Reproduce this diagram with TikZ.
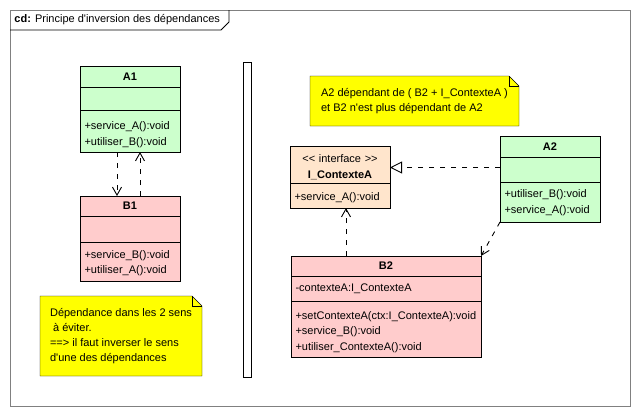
\documentclass[tikz,border=0pt]{standalone}
\usepackage{fontspec}
\setmainfont{Liberation Sans}[Ligatures=TeXOff]
\usetikzlibrary{positioning,arrows.meta,backgrounds}
\definecolor{clsgreen}{RGB}{204,255,204}
\definecolor{clspink}{RGB}{255,204,204}
\definecolor{clspeach}{RGB}{255,229,204}
\definecolor{noteyellow}{RGB}{255,255,0}
\definecolor{framegray}{RGB}{128,128,128}

\begin{document}
\begin{tikzpicture}[%
    x=1pt, y=-1pt,                        % screen-like coordinates, y going down
    font=\fontsize{11}{15.5}\selectfont,  % one text size everywhere
    line width=0.9pt,
    >={Straight Barb[length=8pt,width=9pt]},
    ]
% -------------------------------------------------
% Box styles for the classes and the notes
\tikzset{
  base/.style={draw, rectangle, inner xsep=4.5pt, inner ysep=0pt, outer sep=0pt},
  box/.style={base, text width=91pt, align=left},
  wbox/.style={base, text width=181pt, align=left},
  head/.style={align=center},
  % lift pushes a text block down a little (height of the first line)
  lift/.style={execute at begin node={\rule{0pt}{#1}}},
  note/.style={rectangle, inner sep=0pt, outer sep=0pt, align=left,
    font=\fontsize{11}{15}\selectfont},
  % Connector line styles
  dep/.style={->, dash pattern=on 5pt off 6pt},
  real/.style={-{Triangle[open,length=12pt,width=12pt]}, dash pattern=on 5pt off 6pt},
}
\useasboundingbox (0,0) rectangle (640,416);
% -------------------------------------------------
% Frame and its title
\draw[framegray] (10,10) rectangle (630,406);
\node[anchor=west, inner sep=0pt] (title) at (14,20) {\textbf{cd:} Principe d'inversion des dépendances};
\draw (10,30) -- (221,30) -- (229,22) -- (229,10);
\node[draw, minimum width=8, minimum height=315, inner sep=0pt, anchor=north west] (sep) at (243,62) {};

% -------------------------------------------------
% Left side: A1 and B1 depend on each other
\node[box, head, fill=clsgreen, minimum height=21, anchor=north west] (a1) at (80,66) {\textbf{A1}};
\node[box, fill=clsgreen, minimum height=23, below=0pt of a1] (a1attr) {};
\node[box, fill=clsgreen, minimum height=42, below=0pt of a1attr, lift=15pt] (a1ops) {+service\_A():void\\+utiliser\_B():void};

\node[box, head, fill=clspink, minimum height=20, anchor=north west] (b1) at (80,196) {\textbf{B1}};
\node[box, fill=clspink, minimum height=26, below=0pt of b1] (b1attr) {};
\node[box, fill=clspink, minimum height=39, below=0pt of b1attr, lift=11pt] (b1ops) {+service\_B():void\\+utiliser\_A():void};

\node[note, minimum width=162, minimum height=80, anchor=north west, lift=16pt] (n1) at (40,296)
  {Dépendance dans les 2 sens\\\ à éviter.\\==> il faut inverser le sens\\d'une des dépendances};

% -------------------------------------------------
% Right side: dependency inverted through the interface
\node[note, minimum width=209, minimum height=50, anchor=north west, lift=15pt] (n2) at (310,76)
  {A2 dépendant de ( B2 + I\_ContexteA )\\et B2 n'est plus dépendant de A2};

\node[box, head, fill=clspeach, minimum height=37, anchor=north west, lift=14pt, font=\fontsize{11}{16}\selectfont] (ictx) at (290,146)
  {<\kern0pt< interface >\kern0pt>\\\textbf{I\_ContexteA}};
\node[box, fill=clspeach, minimum height=25, below=0pt of ictx, lift=12pt] (ictxops) {+service\_A():void};

\node[box, head, fill=clsgreen, minimum height=21, anchor=north west] (a2) at (500,136) {\textbf{A2}};
\node[box, fill=clsgreen, minimum height=25, below=0pt of a2] (a2attr) {};
\node[box, fill=clsgreen, minimum height=40, below=0pt of a2attr, lift=9pt] (a2ops) {+utiliser\_B():void\\+service\_A():void};

\node[wbox, head, fill=clspink, minimum height=20, anchor=north west] (b2) at (291,256) {\textbf{B2}};
\node[wbox, fill=clspink, minimum height=25, below=0pt of b2] (b2attr) {-contexteA:I\_ContexteA};
\node[wbox, fill=clspink, minimum height=56, below=0pt of b2attr, lift=14pt] (b2ops)
  {+setContexteA(ctx:I\_ContexteA):void\\+service\_B():void\\+utiliser\_ContexteA():void};

% -------------------------------------------------
% Note outlines with the folded corner
\begin{scope}[on background layer]
  \foreach \n in {n1,n2} {
    \draw[fill=noteyellow] (\n.north west) -- ([xshift=-10pt]\n.north east)
      -- ([yshift=-10pt]\n.north east) -- (\n.south east) -- (\n.south west) -- cycle;
    \draw ([xshift=-10pt]\n.north east) |- ([yshift=-10pt]\n.north east);
  }
\end{scope}

% -------------------------------------------------
% Connectors
\draw[dep] ([xshift=-13pt]a1ops.south) -- ([xshift=-13pt]b1.north);
\draw[dep] ([xshift=10pt]b1.north) -- ([xshift=10pt]a1ops.south);
\draw[real] ([yshift=2pt]a2attr.west) -- ([yshift=2pt]a2attr.west -| ictx.east);
\draw[dep] ([xshift=6pt]ictxops.south |- b2.north) -- ([xshift=6pt]ictxops.south);
\draw[dep] (a2ops.south west) -- (b2.north east);
\end{tikzpicture}
\end{document}
